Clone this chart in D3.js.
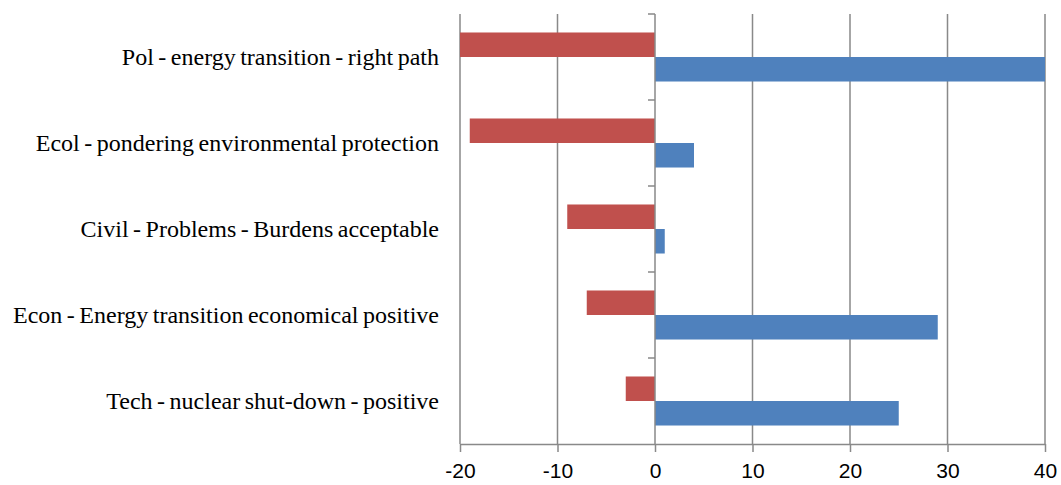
<!DOCTYPE html>
<html>
<head>
<meta charset="utf-8">
<script src="https://cdn.jsdelivr.net/npm/d3@7"></script>
<style>
  html, body { margin: 0; padding: 0; background: #ffffff; }
  svg { display: block; }
</style>
</head>
<body>
<svg id="chart" width="1061" height="485"></svg>
<script>
// Categories, top to bottom
const categories = [
  "Pol - energy transition - right path",
  "Ecol - pondering environmental protection",
  "Civil - Problems - Burdens acceptable",
  "Econ - Energy transition economical positive",
  "Tech - nuclear shut-down - positive"
];
// Negative (red) and positive (blue) scores per category
const againstValues = [-20, -19, -9, -7, -3];
const forValues = [40, 4, 1, 29, 25];
// Value axis ticks
const xTicks = [-20, -10, 0, 10, 20, 30, 40];

const seriesKeys = ["against", "for"];
const seriesColors = { against: "#C0504D", for: "#4F81BD" };
const rows = categories.map((c, i) => ({ cat: c, against: againstValues[i], for: forValues[i] }));

const svg = d3.select("#chart");
const plot = { left: 460, right: 1045, top: 14, bottom: 444 };
const gridColor = "#898989";

const x = d3.scaleLinear().domain([-20, 40]).range([plot.left, plot.right]);
const y = d3.scaleBand().domain(categories).range([plot.top, plot.bottom])
  .paddingInner(0.43).paddingOuter(0.215);
const ySub = d3.scaleBand().domain(seriesKeys).range([0, y.bandwidth()]);
const yEdge = d3.scaleLinear().domain([0, categories.length]).range([plot.top, plot.bottom]);

// Vertical gridlines
svg.append("g")
  .selectAll("line")
  .data(xTicks.filter(t => t !== 0))
  .join("line")
  .attr("x1", d => x(d)).attr("x2", d => x(d))
  .attr("y1", plot.top).attr("y2", plot.bottom)
  .attr("stroke", gridColor).attr("stroke-width", 1.5);

// Bars
const groups = svg.append("g")
  .selectAll("g")
  .data(rows)
  .join("g")
  .attr("transform", d => `translate(0,${y(d.cat)})`);

groups.selectAll("rect")
  .data(d => seriesKeys.map(k => ({ key: k, value: d[k] })))
  .join("rect")
  .attr("x", d => x(Math.min(0, d.value)))
  .attr("width", d => Math.abs(x(d.value) - x(0)))
  .attr("y", d => ySub(d.key))
  .attr("height", ySub.bandwidth())
  .attr("fill", d => seriesColors[d.key]);

// Bottom value axis (plain hyphen for negatives)
const xAxis = svg.append("g")
  .attr("transform", `translate(0,${plot.bottom})`)
  .call(d3.axisBottom(x).tickValues(xTicks).tickSize(8).tickPadding(11)
    .tickFormat(d => String(d)).tickSizeOuter(0));
xAxis.select(".domain").attr("stroke", gridColor).attr("stroke-width", 1.5);
xAxis.selectAll(".tick line").attr("stroke", gridColor).attr("stroke-width", 1.5);
xAxis.selectAll(".tick text")
  .attr("fill", "#000")
  .style("font-family", "'Liberation Sans', Arial, sans-serif")
  .style("font-size", "21px");

// Category axis at zero with ticks on the band boundaries
const zeroAxis = svg.append("g");
zeroAxis.append("line")
  .attr("x1", x(0)).attr("x2", x(0))
  .attr("y1", plot.top).attr("y2", plot.bottom)
  .attr("stroke", gridColor).attr("stroke-width", 1.5);
zeroAxis.selectAll("line.edge")
  .data(d3.range(categories.length))
  .join("line")
  .attr("class", "edge")
  .attr("x1", x(0) - 7).attr("x2", x(0))
  .attr("y1", d => yEdge(d)).attr("y2", d => yEdge(d))
  .attr("stroke", gridColor).attr("stroke-width", 1.5);

// Category labels
svg.append("g")
  .selectAll("text")
  .data(categories)
  .join("text")
  .attr("x", 439)
  .attr("y", d => y(d) + y.bandwidth() / 2)
  .attr("dy", "0.33em")
  .attr("text-anchor", "end")
  .style("font-family", "'Liberation Serif', 'Times New Roman', serif")
  .style("font-size", "24px")
  .style("word-spacing", "-1.5px")
  .attr("fill", "#000")
  .text(d => d);
</script>
</body>
</html>
